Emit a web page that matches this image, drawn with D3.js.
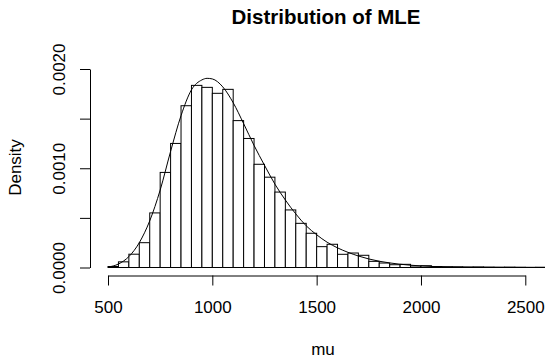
<!DOCTYPE html>
<html>
<head>
<meta charset="utf-8">
<script src="https://cdn.jsdelivr.net/npm/d3@7"></script>
<style>
  body { margin: 0; background: #fff; }
  svg { display: block; font-family: "Liberation Sans", Arial, sans-serif; }
</style>
</head>
<body>
<figure id="hist" style="margin:0"></figure>
<script>
// histogram bins (left edges, width 50) and their densities
const binStart = [500, 550, 600, 650, 700, 750, 800, 850, 900, 950,
  1000, 1050, 1100, 1150, 1200, 1250, 1300, 1350, 1400, 1450,
  1500, 1550, 1600, 1650, 1700, 1750, 1800, 1850, 1900, 1950,
  2000, 2050, 2100, 2150, 2200, 2250, 2300, 2350, 2400, 2450,
  2500, 2550];
const binDensity = [0.00001, 0.000057, 0.000134, 0.00025, 0.00055, 0.000958, 0.00125, 0.00163, 0.001835, 0.001815,
  0.001755, 0.001795, 0.00148, 0.0013, 0.00104, 0.00091, 0.00076, 0.00058, 0.000445, 0.000345,
  0.00021, 0.000234, 0.000133, 0.000146, 0.000123, 0.000062, 0.000045, 0.000028, 0.000032, 0.000015,
  0.000018, 0.00001, 0.000007, 0.000006, 0.000004, 0.000005, 0.000003, 0.000002, 0.000003, 0.000002,
  0.000001, 0.000002];
const binWidth = 50;

// fitted density curve
const curveMu = [500, 550, 600, 650, 700, 750, 800, 850, 900, 950, 975, 1000,
  1050, 1100, 1150, 1200, 1250, 1300, 1350, 1400, 1450, 1500, 1550, 1600,
  1650, 1700, 1750, 1800, 1850, 1900, 2000, 2125, 2250, 2500, 2650];
const curveDensity = [0.000004, 0.000035, 0.00011, 0.00025, 0.00047, 0.00078, 0.00117, 0.00153, 0.00179, 0.00189, 0.001906, 0.0019,
  0.00182, 0.00166, 0.00145, 0.00123, 0.00103, 0.00084, 0.00068, 0.00054, 0.00042, 0.00033, 0.000255, 0.000198,
  0.000153, 0.000116, 0.000086, 0.000063, 0.000046, 0.000033, 0.000016, 0.000006, 0.000003, 0.000001, 0.0000005];

const xTicks = [500, 1000, 1500, 2000, 2500];
const yTicks = [0, 0.0005, 0.001, 0.0015, 0.002];
const yLabelled = [0, 0.001, 0.002];

const width = 545;
const height = 359;

const svg = d3.select("figure#hist")
  .append("svg")
  .attr("width", width)
  .attr("height", height);

const x = d3.scaleLinear().domain([500, 2500]).range([108, 525.3]);
const y = d3.scaleLinear().domain([0, 0.002]).range([267.5, 69]);

// bars
svg.append("g")
  .selectAll("rect")
  .data(binStart)
  .enter()
  .append("rect")
  .attr("x", d => x(d))
  .attr("width", d => x(d + binWidth) - x(d))
  .attr("y", (d, i) => y(binDensity[i]))
  .attr("height", (d, i) => y(0) - y(binDensity[i]))
  .attr("fill", "#fff")
  .attr("stroke", "#000")
  .attr("stroke-width", 1);

// density curve
const line = d3.line()
  .x(d => x(d[0]))
  .y(d => y(d[1]))
  .curve(d3.curveMonotoneX);

svg.append("path")
  .datum(curveMu.map((m, i) => [m, curveDensity[i]]))
  .attr("d", line)
  .attr("fill", "none")
  .attr("stroke", "#000")
  .attr("stroke-width", 1);

// x axis
const gx = svg.append("g")
  .attr("transform", "translate(0,275.5)")
  .call(d3.axisBottom(x).tickValues(xTicks).tickSize(10).tickSizeOuter(0)
    .tickFormat(d3.format("d")));
gx.selectAll("text")
  .attr("y", 37)
  .attr("dy", 0)
  .attr("fill", "#000")
  .style("font-size", "17px");

// y axis
const gy = svg.append("g")
  .attr("transform", "translate(90,0)")
  .call(d3.axisLeft(y).tickValues(yTicks).tickSize(10).tickSizeOuter(0)
    .tickFormat(d => yLabelled.includes(d) ? d3.format(".4f")(d) : ""));
gy.selectAll("text")
  .attr("x", 0)
  .attr("dy", 0)
  .attr("transform", "translate(-25,0) rotate(-90)")
  .attr("text-anchor", "middle")
  .attr("fill", "#000")
  .style("font-size", "17px");

gx.attr("font-family", null);
gy.attr("font-family", null);

// titles
svg.append("text")
  .attr("x", 326)
  .attr("y", 23.5)
  .attr("text-anchor", "middle")
  .style("font-size", "20.5px")
  .style("font-weight", "bold")
  .text("Distribution of MLE");

svg.append("text")
  .attr("x", 323)
  .attr("y", 355)
  .attr("text-anchor", "middle")
  .style("font-size", "17px")
  .text("mu");

svg.append("text")
  .attr("transform", "translate(20.5,167.5) rotate(-90)")
  .attr("text-anchor", "middle")
  .style("font-size", "17px")
  .text("Density");
</script>
</body>
</html>
